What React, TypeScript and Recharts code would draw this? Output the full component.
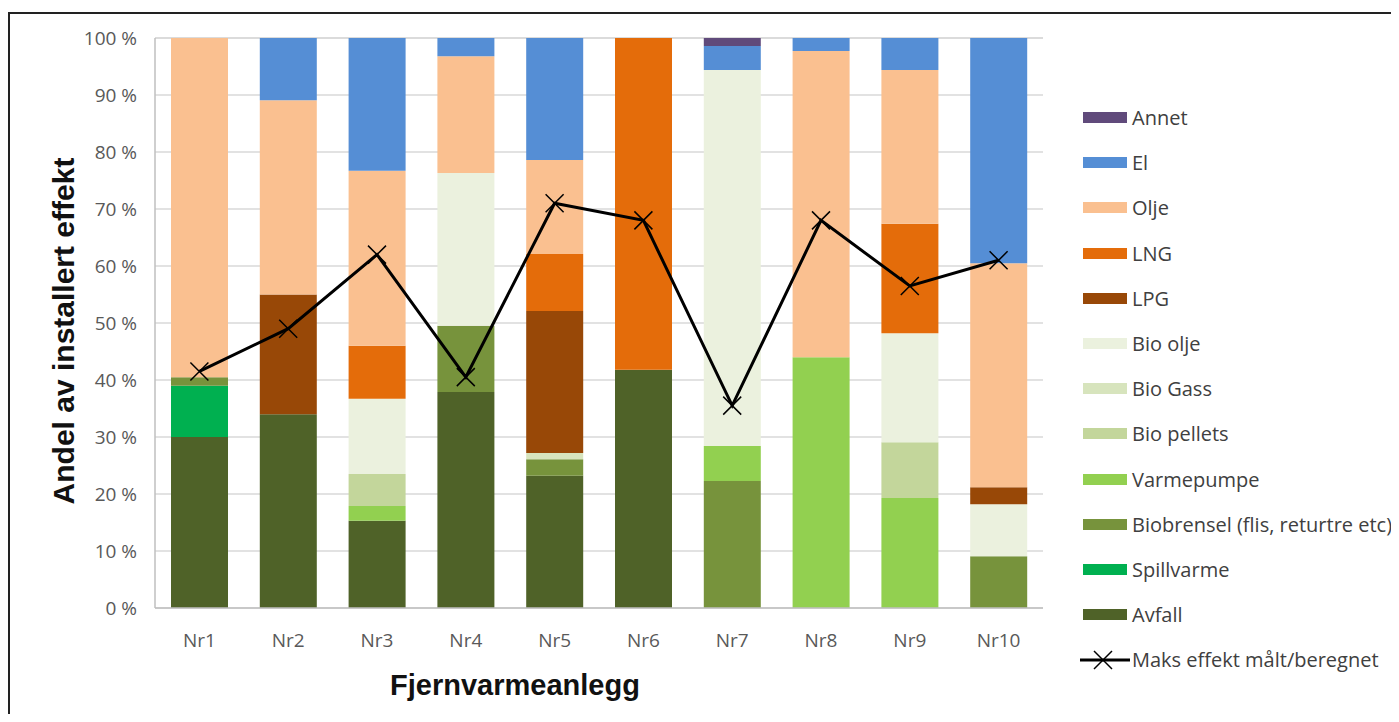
import { ComposedChart, Bar, Line, XAxis, YAxis, CartesianGrid, Legend } from 'recharts';

const categories = ['Nr1', 'Nr2', 'Nr3', 'Nr4', 'Nr5', 'Nr6', 'Nr7', 'Nr8', 'Nr9', 'Nr10'];

// andel av installert effekt, prosent (stablet nedenfra)
const avfall = [30, 34, 15.3, 37.9, 23.2, 41.8, 0, 0, 0, 0];
const spillvarme = [9, 0, 0, 0, 0, 0, 0, 0, 0, 0];
const biobrensel = [1.5, 0, 0, 11.6, 2.9, 0, 22.3, 0, 0, 9.1];
const varmepumpe = [0, 0, 2.6, 0, 0, 0, 6.1, 44, 19.3, 0];
const bioPellets = [0, 0, 5.6, 0, 0, 0, 0, 0, 9.8, 0];
const bioGass = [0, 0, 0, 0, 1.1, 0, 0, 0, 0, 0];
const bioOlje = [0, 0, 13.2, 26.8, 0, 0, 66, 0, 19.1, 9.1];
const lpg = [0, 21, 0, 0, 24.9, 0, 0, 0, 0, 3];
const lng = [0, 0, 9.3, 0, 10, 58.2, 0, 0, 19.2, 0];
const olje = [59.5, 34.1, 30.7, 20.5, 16.5, 0, 0, 53.7, 27, 39.3];
const el = [0, 10.9, 23.3, 3.2, 21.4, 0, 4.2, 2.3, 5.6, 39.5];
const annet = [0, 0, 0, 0, 0, 0, 1.4, 0, 0, 0];
const maksEffekt = [41.5, 49, 62, 40.5, 71, 68, 35.5, 68, 56.5, 61];

const yTicks = [0, 10, 20, 30, 40, 50, 60, 70, 80, 90, 100];

const series = [
  { key: 'avfall', name: 'Avfall', values: avfall, color: '#4f6228' },
  { key: 'spillvarme', name: 'Spillvarme', values: spillvarme, color: '#00b050' },
  { key: 'biobrensel', name: 'Biobrensel (flis, returtre etc)', values: biobrensel, color: '#77933c' },
  { key: 'varmepumpe', name: 'Varmepumpe', values: varmepumpe, color: '#92d050' },
  { key: 'bioPellets', name: 'Bio pellets', values: bioPellets, color: '#c3d69b' },
  { key: 'bioGass', name: 'Bio Gass', values: bioGass, color: '#d7e4bd' },
  { key: 'bioOlje', name: 'Bio olje', values: bioOlje, color: '#ebf1de' },
  { key: 'lpg', name: 'LPG', values: lpg, color: '#984807' },
  { key: 'lng', name: 'LNG', values: lng, color: '#e46c0a' },
  { key: 'olje', name: 'Olje', values: olje, color: '#fac090' },
  { key: 'el', name: 'El', values: el, color: '#558ed5' },
  { key: 'annet', name: 'Annet', values: annet, color: '#604a7b' },
];

const data = categories.map((c, i) => {
  const row: Record<string, string | number> = { name: c, maks: maksEffekt[i] };
  series.forEach((s) => {
    row[s.key] = s.values[i];
  });
  return row;
});

const XMark = (props: any) => {
  const { cx, cy } = props;
  if (cx == null || cy == null) return null;
  const r = 9;
  return (
    <path
      d={`M${cx - r},${cy - r}L${cx + r},${cy + r}M${cx - r},${cy + r}L${cx + r},${cy - r}`}
      stroke="#000"
      strokeWidth={1.5}
      fill="none"
    />
  );
};

const LegendBox = () => {
  const rows = [...series].reverse();
  const rowH = 45.2;
  const textStyle = { fontFamily: 'Open Sans', fontSize: 20, color: '#404040', whiteSpace: 'nowrap' as const };
  return (
    <div>
      {rows.map((s) => (
        <div key={s.key} style={{ height: rowH, display: 'flex', alignItems: 'center' }}>
          <span style={{ width: 44, height: 11, background: s.color, marginRight: 5, flexShrink: 0 }} />
          <span style={textStyle}>{s.name}</span>
        </div>
      ))}
      <div style={{ height: rowH, display: 'flex', alignItems: 'center' }}>
        <svg width={52} height={20} style={{ marginLeft: -3, flexShrink: 0 }}>
          <line x1={0} y1={10} x2={50} y2={10} stroke="#000" strokeWidth={3} />
          <XMark cx={23} cy={10} />
        </svg>
        <span style={textStyle}>Maks effekt målt/beregnet</span>
      </div>
    </div>
  );
};

export default function App() {
  return (
    <div
      style={{
        marginTop: 4,
        width: 1391,
        height: 700,
        borderTop: '2px solid #222',
        borderLeft: '2px solid #222',
        overflow: 'hidden',
        background: '#fff',
      }}
    >
      <ComposedChart
        width={1389}
        height={698}
        data={data}
        margin={{ top: 24, right: 36, left: 60, bottom: 9 }}
        barCategoryGap="35%"
      >
        <CartesianGrid vertical={false} stroke="#d9d9d9" strokeWidth={1.5} />
        <XAxis
          dataKey="name"
          height={95}
          tickLine={false}
          axisLine={{ stroke: '#bfbfbf', strokeWidth: 1.5 }}
          tickMargin={20}
          tick={{ fill: '#595959', fontSize: 19, fontFamily: 'Open Sans' }}
          label={{
            content: (p: any) => (
              <text
                x={p.viewBox.x + 360}
                y={p.viewBox.y + 87}
                textAnchor="middle"
                fontFamily="Liberation Sans"
                fontWeight="bold"
                fontSize={29}
                fill="#111"
              >
                Fjernvarmeanlegg
              </text>
            ),
          }}
        />
        <YAxis
          width={85}
          domain={[0, 100]}
          ticks={yTicks}
          interval={0}
          tickLine={false}
          axisLine={{ stroke: '#bfbfbf', strokeWidth: 1.5 }}
          tickMargin={12}
          tickFormatter={(v: number) => `${v} %`}
          tick={{ fill: '#595959', fontSize: 19, fontFamily: 'Open Sans' }}
          label={{
            content: (p: any) => {
              const x = p.viewBox.x - 7;
              const y = p.viewBox.y + p.viewBox.height / 2 + 8;
              return (
                <text
                  x={x}
                  y={y}
                  transform={`rotate(-90 ${x} ${y})`}
                  textAnchor="middle"
                  dominantBaseline="central"
                  fontFamily="Liberation Sans"
                  fontWeight="bold"
                  fontSize={30}
                  fill="#111"
                >
                  Andel av installert effekt
                </text>
              );
            },
          }}
        />
        {series.map((s) => (
          <Bar key={s.key} dataKey={s.key} name={s.name} stackId="a" fill={s.color} barSize={57} isAnimationActive={false} />
        ))}
        <Line
          dataKey="maks"
          name="Maks effekt målt/beregnet"
          stroke="#000"
          strokeWidth={3}
          dot={<XMark />}
          activeDot={false}
          isAnimationActive={false}
        />
        <Legend
          layout="vertical"
          align="right"
          verticalAlign="top"
          content={<LegendBox />}
          wrapperStyle={{ left: 1073, top: 81, width: 320, right: 'auto' }}
        />
      </ComposedChart>
    </div>
  );
}
